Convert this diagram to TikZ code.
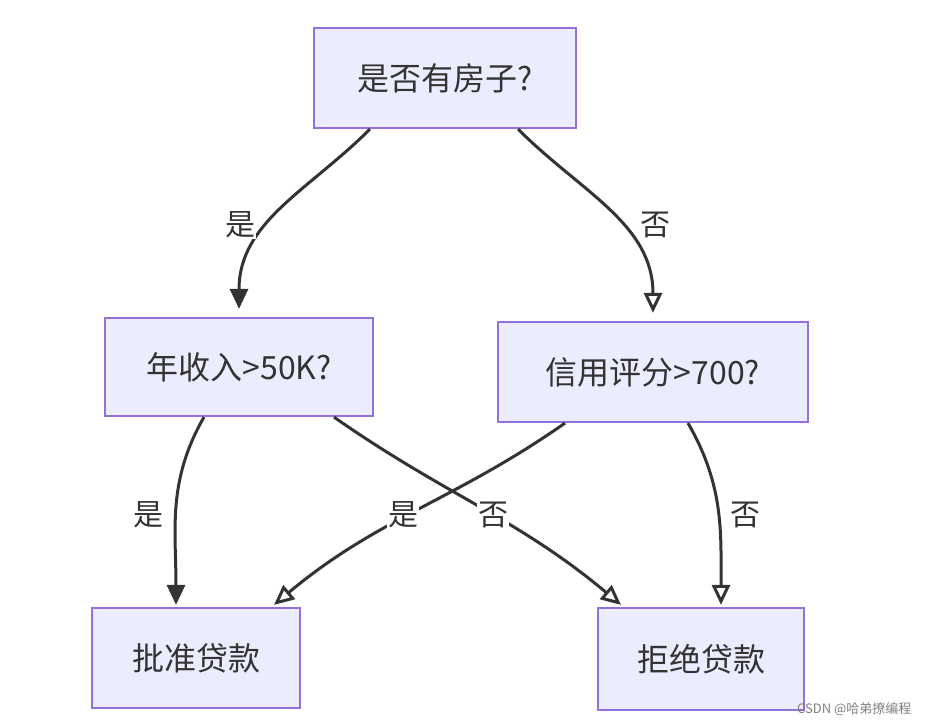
\documentclass[tikz,border=0pt]{standalone}
\usepackage{fontspec}
\setmainfont{Noto Sans CJK SC}
\usetikzlibrary{arrows.meta}
\definecolor{boxfill}{HTML}{ECECFF}
\definecolor{boxline}{HTML}{9370DB}
\definecolor{edge}{HTML}{333333}
\begin{document}
\begin{tikzpicture}[x=1pt,y=1pt,
  box/.style={draw=boxline,fill=boxfill,line width=2.2pt,inner sep=0pt,font=\fontsize{32}{36}\selectfont,text=edge},
  e/.style={draw=edge,line width=3pt},
  ef/.style={e,-{Triangle[length=20pt,width=18pt]}},
  eo/.style={e,-{Triangle[open,length=20pt,width=18pt,fill=white]}},
  lab/.style={fill=white,inner sep=1pt,font=\fontsize{30}{34}\selectfont,text=edge}]
\useasboundingbox (0,0) rectangle (927,725);
\node[box,minimum width=262pt,minimum height=100pt] (top) at (445,647) {是否有房子?};
\node[box,minimum width=268pt,minimum height=98pt] (l) at (239,358) {年收入>50K?};
\node[box,minimum width=310pt,minimum height=100pt] (r) at (653,353) {信用评分>700?};
\node[box,minimum width=208pt,minimum height=100pt] (bl) at (196,67) {批准贷款};
\node[box,minimum width=206pt,minimum height=102pt] (br) at (701,66) {拒绝贷款};
\draw[ef] ([xshift=-75pt]top.south) to[out=-135,in=90] ([yshift=8pt]l.north);
\draw[eo] ([xshift=73pt]top.south) to[out=-45,in=90] ([yshift=8pt]r.north);
\draw[ef] ([xshift=-35pt]l.south) to[out=-120,in=90] ([xshift=-20pt,yshift=2pt]bl.north);
\draw[eo] ([xshift=95pt]l.south) to[out=-35,in=140] ([xshift=-80pt,yshift=2pt]br.north);
\draw[eo] ([xshift=-88pt]r.south) to[out=-145,in=40] ([xshift=78pt,yshift=2pt]bl.north);
\draw[eo] ([xshift=35pt]r.south) to[out=-60,in=90] ([xshift=20pt,yshift=2pt]br.north);
\node[lab] (l1) at (240,500) {是};
\node[lab] (l2) at (655,500) {否};
\node[lab] (l3) at (148,210) {是};
\node[lab] (l4) at (403,210) {是};
\node[lab] (l5) at (493,210) {否};
\node[lab] (l6) at (745,210) {否};
\node[font=\fontsize{13}{15}\selectfont,text=gray,anchor=east] (wm) at (915,16) {CSDN @哈弟撩编程};
\end{tikzpicture}
\end{document}
